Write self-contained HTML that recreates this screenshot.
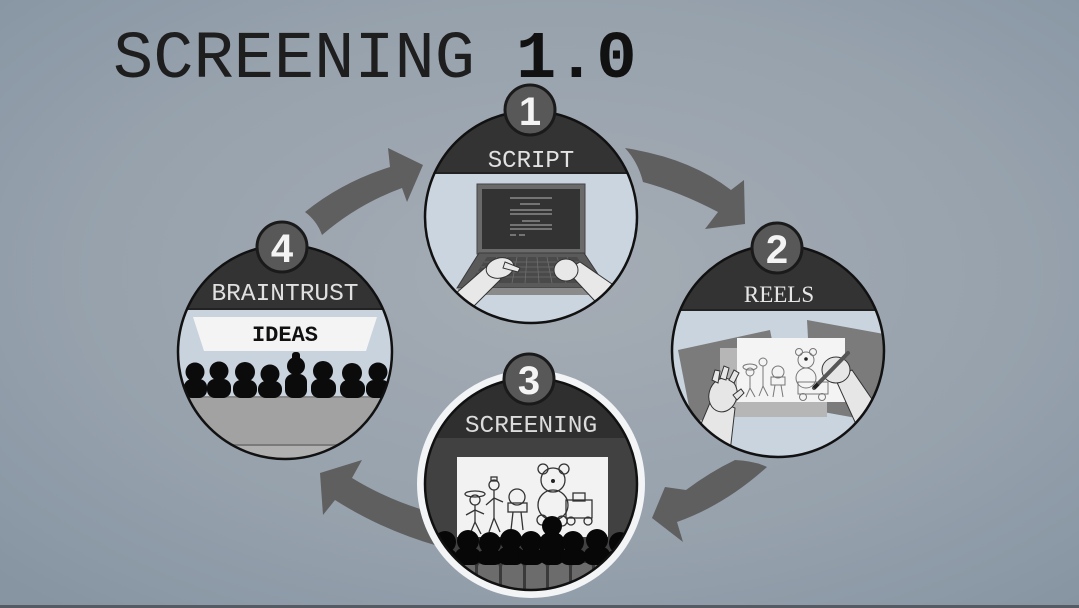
<!DOCTYPE html>
<html><head><meta charset="utf-8"><style>
html,body{margin:0;padding:0;width:1079px;height:608px;overflow:hidden;background:#98a3ae}
svg{display:block}
.mono{font-family:"Liberation Mono","DejaVu Sans Mono",monospace}
</style></head><body>
<svg width="1079" height="608" viewBox="0 0 1079 608" xmlns="http://www.w3.org/2000/svg">
<defs>
<radialGradient id="bg" cx="52%" cy="45%" r="72%">
<stop offset="0" stop-color="#a5acb4"/>
<stop offset="0.6" stop-color="#97a2ad"/>
<stop offset="1" stop-color="#8795a3"/>
</radialGradient>
<clipPath id="c1"><circle cx="531" cy="217" r="106"/></clipPath>
<clipPath id="c2"><circle cx="778" cy="351" r="106"/></clipPath>
<clipPath id="c3"><circle cx="531" cy="484" r="106"/></clipPath>
<clipPath id="c4"><circle cx="285" cy="352" r="107"/></clipPath>
</defs>
<rect width="1079" height="608" fill="url(#bg)"/>
<rect y="605" width="1079" height="3" fill="#555b62"/>

<!-- Title -->
<text x="113" y="77" class="mono" font-size="67" fill="#1e1e1e" textLength="362" lengthAdjust="spacingAndGlyphs">SCREENING</text>
<text x="516" y="77" class="mono" font-size="67" font-weight="bold" fill="#111">1.0</text>

<!-- Arrows -->
<g fill="#5f5f5f">
<path d="M305,212 Q342,182 390,167 L388,148 L423,165 L407,202 L402,188 Q358,204 322,235 Q317,221 305,212 Z"/>
<path d="M625,148 Q690,158 731,190 L744,180 L745,224 L705,229 L718,212 Q680,192 643,182 Q638,162 625,148 Z"/>
<path d="M735,460 Q755,461 767,467 Q725,505 677,522 L683,542 L652,518 L665,487 L686,490 Q710,472 735,460 Z"/>
<path d="M320,473 L362,460 L352,478 Q388,500 430,512 L438,546 Q382,530 335,500 L323,515 Z"/>
</g>

<!-- Circle 1: SCRIPT -->
<g clip-path="url(#c1)">
<rect x="400" y="100" width="260" height="240" fill="#cbd5df"/>
<rect x="400" y="100" width="260" height="73" fill="#333"/>
<rect x="400" y="172" width="260" height="2" fill="#222"/>
<text x="531" y="167" class="mono" font-size="24" fill="#e2e2e2" text-anchor="middle">SCRIPT</text>
<!-- laptop -->
<rect x="477" y="184" width="108" height="70" fill="#6a6a6a" stroke="#444" stroke-width="1"/>
<rect x="482" y="189" width="98" height="60" fill="#333"/>
<g stroke="#9a9a9a" stroke-width="1.2">
<line x1="510" y1="198" x2="552" y2="198"/>
<line x1="520" y1="204" x2="540" y2="204"/>
<line x1="510" y1="210" x2="552" y2="210"/>
<line x1="510" y1="214" x2="552" y2="214"/>
<line x1="522" y1="221" x2="540" y2="221"/>
<line x1="510" y1="225" x2="552" y2="225"/>
<line x1="510" y1="229" x2="552" y2="229"/>
<line x1="510" y1="235" x2="516" y2="235"/>
<line x1="519" y1="235" x2="525" y2="235"/>
</g>
<path d="M479,253 L584,253 L607,288 L457,288 Z" fill="#5a5a5a" stroke="#3a3a3a" stroke-width="1"/>
<path d="M487,257 L577,257 L594,283 L470,283 Z" fill="#4a4a4a"/>
<g stroke="#6e6e6e" stroke-width="0.8">
<line x1="484" y1="262" x2="581" y2="262"/>
<line x1="481" y1="267" x2="584" y2="267"/>
<line x1="477" y1="272" x2="587" y2="272"/>
<line x1="474" y1="277" x2="590" y2="277"/>
<line x1="497" y1="257" x2="484" y2="283"/>
<line x1="507" y1="257" x2="498" y2="283"/>
<line x1="517" y1="257" x2="512" y2="283"/>
<line x1="527" y1="257" x2="525" y2="283"/>
<line x1="537" y1="257" x2="539" y2="283"/>
<line x1="547" y1="257" x2="552" y2="283"/>
<line x1="557" y1="257" x2="566" y2="283"/>
<line x1="567" y1="257" x2="580" y2="283"/>
</g>
<path d="M457,288 L607,288 L603,295 L461,295 Z" fill="#8a8a8a"/>
<!-- hands -->
<g fill="#e8e8e8" stroke="#333" stroke-width="1">
<path d="M446,302 L487,266 L501,279 L468,312 Z"/>
<ellipse cx="500" cy="268" rx="14" ry="10" transform="rotate(-15 500 268)"/>
<path d="M505,262 L520,268 L518,272 L503,268 Z"/>
<path d="M566,270 L580,262 L628,295 L607,314 Z"/>
<ellipse cx="566" cy="270" rx="12" ry="11"/>
</g>
</g>
<circle cx="531" cy="217" r="106" fill="none" stroke="#111" stroke-width="2.5"/>

<!-- Circle 2: REELS -->
<g clip-path="url(#c2)">
<rect x="660" y="240" width="240" height="230" fill="#c9d4de"/>
<rect x="660" y="240" width="240" height="70" fill="#333"/>
<rect x="660" y="309" width="240" height="2" fill="#222"/>
<text x="779" y="302" font-family="'Liberation Serif','DejaVu Serif',serif" font-size="23" fill="#e6e6e6" text-anchor="middle">REELS</text>
<path d="M678,350 L770,330 L785,405 L692,422 Z" fill="#7b7b7b"/>
<path d="M807,320 L895,336 L895,425 L812,410 Z" fill="#7b7b7b"/>
<rect x="720" y="348" width="107" height="69" fill="#b6b6b6"/>
<rect x="737" y="338" width="108" height="64" fill="#f4f4f4"/>
<g fill="none" stroke="#777" stroke-width="1">
<ellipse cx="750" cy="367" rx="7" ry="3"/>
<circle cx="750" cy="372" r="4"/>
<line x1="750" y1="376" x2="750" y2="388"/><line x1="750" y1="388" x2="746" y2="397"/><line x1="750" y1="388" x2="755" y2="397"/>
<circle cx="763" cy="362" r="4"/>
<line x1="763" y1="366" x2="763" y2="386"/><line x1="763" y1="386" x2="759" y2="396"/><line x1="763" y1="386" x2="768" y2="396"/>
<circle cx="778" cy="372" r="6"/>
<rect x="771" y="377" width="14" height="8"/>
<line x1="775" y1="385" x2="773" y2="397"/><line x1="781" y1="385" x2="783" y2="397"/>
<circle cx="806" cy="360" r="8"/><circle cx="799" cy="352" r="3.5"/><circle cx="813" cy="352" r="3.5"/>
<ellipse cx="806" cy="378" rx="10" ry="10"/>
<rect x="798" y="382" width="30" height="12"/>
<circle cx="803" cy="397" r="3.5"/><circle cx="822" cy="397" r="3.5"/>
</g>
<circle cx="806" cy="359" r="1.8" fill="#222"/>
<g fill="#e6e6e6" stroke="#333" stroke-width="1">
<path d="M712,398 L735,408 L728,470 L690,450 Z"/>
<ellipse cx="723" cy="395" rx="14" ry="17" transform="rotate(15 723 395)"/>
<path d="M712,380 l3,-10 l5,1 l-2,12 Z"/>
<path d="M720,378 l4,-12 l5,2 l-3,12 Z"/>
<path d="M729,380 l5,-10 l5,3 l-5,10 Z"/>
<path d="M733,395 l8,-6 l3,4 l-7,7 Z"/>
<path d="M835,378 L852,370 L900,440 L870,455 Z"/>
<ellipse cx="836" cy="370" rx="14" ry="13"/>
</g>
<line x1="814" y1="388" x2="848" y2="353" stroke="#555" stroke-width="4" stroke-linecap="round"/>
<line x1="814" y1="388" x2="818" y2="384" stroke="#222" stroke-width="4"/>
</g>
<circle cx="778" cy="351" r="106" fill="none" stroke="#111" stroke-width="2.5"/>

<!-- Circle 4: BRAINTRUST -->
<g clip-path="url(#c4)">
<rect x="170" y="240" width="240" height="230" fill="#c8d3dd"/>
<rect x="170" y="240" width="240" height="69" fill="#333"/>
<rect x="170" y="308" width="240" height="2" fill="#222"/>
<text x="285" y="300" class="mono" font-size="24.5" fill="#e0e0e0" text-anchor="middle">BRAINTRUST</text>
<path d="M193,317 L377,317 L366,351 L204,351 Z" fill="#f4f4f4"/>
<text x="285" y="341" class="mono" font-size="22" font-weight="bold" fill="#111" text-anchor="middle">IDEAS</text>
<rect x="170" y="396" width="240" height="70" fill="#a2a2a2"/>
<rect x="170" y="396" width="240" height="2" fill="#888"/>
<rect x="170" y="444" width="240" height="2" fill="#7a7a7a"/>
<rect x="170" y="446" width="240" height="20" fill="#b0b0b0"/>
<g fill="#0b0b0b">
<circle cx="195" cy="372" r="9.5"/><rect x="184" y="379" width="23" height="19" rx="8"/>
<circle cx="219" cy="371" r="9.5"/><rect x="207" y="379" width="24" height="19" rx="8"/>
<circle cx="245" cy="372" r="10"/><rect x="233" y="380" width="24" height="18" rx="8"/>
<circle cx="270" cy="374" r="9.5"/><rect x="258" y="381" width="24" height="17" rx="8"/>
<circle cx="296" cy="366" r="9"/><rect x="292" y="352" width="8" height="10" rx="3"/><rect x="285" y="374" width="22" height="24" rx="8"/>
<circle cx="323" cy="371" r="10"/><rect x="311" y="379" width="25" height="19" rx="8"/>
<circle cx="352" cy="373" r="10"/><rect x="340" y="380" width="25" height="18" rx="8"/>
<circle cx="378" cy="372" r="9.5"/><rect x="366" y="380" width="24" height="18" rx="8"/>
</g>
</g>
<circle cx="285" cy="352" r="107" fill="none" stroke="#111" stroke-width="2.5"/>

<!-- Circle 3: SCREENING -->
<circle cx="531" cy="484" r="114" fill="#f2f4f6"/>
<g clip-path="url(#c3)">
<rect x="420" y="370" width="230" height="230" fill="#414141"/>
<rect x="420" y="370" width="230" height="68" fill="#2f2f2f"/>
<text x="531" y="432" class="mono" font-size="24.5" fill="#dcdcdc" text-anchor="middle">SCREENING</text>
<rect x="457" y="457" width="151" height="80" fill="#f2f2f2"/>
<g fill="none" stroke="#333" stroke-width="1.3">
<ellipse cx="475" cy="494" rx="10" ry="3"/>
<circle cx="475" cy="500" r="5"/>
<line x1="475" y1="505" x2="475" y2="522"/><line x1="475" y1="522" x2="470" y2="534"/><line x1="475" y1="522" x2="481" y2="534"/>
<line x1="475" y1="510" x2="466" y2="515"/><line x1="475" y1="510" x2="484" y2="514"/>
<circle cx="494" cy="485" r="5"/><rect x="491" y="477" width="6" height="4"/>
<line x1="494" y1="490" x2="494" y2="518"/><line x1="494" y1="518" x2="489" y2="532"/><line x1="494" y1="518" x2="500" y2="532"/>
<line x1="494" y1="498" x2="486" y2="505"/><line x1="494" y1="498" x2="503" y2="502"/>
<circle cx="517" cy="497" r="8"/>
<rect x="508" y="503" width="19" height="9"/>
<line x1="513" y1="512" x2="511" y2="530"/><line x1="521" y1="512" x2="523" y2="530"/>
<circle cx="553" cy="480" r="12"/><circle cx="543" cy="469" r="5"/><circle cx="564" cy="469" r="5"/>
<ellipse cx="553" cy="505" rx="15" ry="15"/>
<circle cx="542" cy="520" r="5"/><circle cx="562" cy="521" r="5"/>
<rect x="566" y="500" width="26" height="18"/><rect x="573" y="493" width="12" height="8"/>
<circle cx="571" cy="521" r="4"/><circle cx="588" cy="521" r="4"/>
</g>
<circle cx="553" cy="481" r="2" fill="#222"/>
<rect x="420" y="560" width="230" height="45" fill="#3a3a3a"/>
<g fill="#6c6c6c">
<rect x="455" y="562" width="20" height="40" rx="4"/>
<rect x="478" y="563" width="21" height="40" rx="4"/>
<rect x="502" y="563" width="21" height="40" rx="4"/>
<rect x="526" y="563" width="20" height="40" rx="4"/>
<rect x="549" y="563" width="20" height="40" rx="4"/>
<rect x="572" y="563" width="20" height="40" rx="4"/>
<rect x="595" y="562" width="20" height="40" rx="4"/>
</g>
<g fill="#070707">
<circle cx="445" cy="542" r="11"/><rect x="431" y="549" width="26" height="16" rx="8"/>
<circle cx="468" cy="541" r="11"/><rect x="455" y="548" width="26" height="17" rx="8"/>
<circle cx="490" cy="543" r="11"/><rect x="477" y="550" width="26" height="15" rx="8"/>
<circle cx="511" cy="540" r="11"/><rect x="498" y="547" width="26" height="18" rx="8"/>
<circle cx="531" cy="542" r="11"/><rect x="518" y="549" width="26" height="16" rx="8"/>
<circle cx="552" cy="526" r="10"/><rect x="540" y="533" width="24" height="32" rx="8"/>
<circle cx="573" cy="542" r="11"/><rect x="560" y="549" width="26" height="16" rx="8"/>
<circle cx="597" cy="540" r="11"/><rect x="584" y="547" width="26" height="18" rx="8"/>
<circle cx="620" cy="543" r="11"/><rect x="607" y="550" width="26" height="15" rx="8"/>
</g>
</g>
<circle cx="531" cy="484" r="106" fill="none" stroke="#111" stroke-width="2.5"/>

<!-- Badges -->
<g stroke="#1a1a1a" stroke-width="3" fill="#585858">
<circle cx="530" cy="110" r="25"/>
<circle cx="777" cy="248" r="25"/>
<circle cx="529" cy="379" r="25"/>
<circle cx="282" cy="247" r="25"/>
</g>
<g font-family="'Liberation Sans','DejaVu Sans',sans-serif" font-weight="bold" font-size="40" fill="#f4f4f4" text-anchor="middle">
<text x="530" y="125">1</text>
<text x="777" y="263">2</text>
<text x="529" y="394">3</text>
<text x="282" y="262">4</text>
</g>
</svg>
</body></html>
